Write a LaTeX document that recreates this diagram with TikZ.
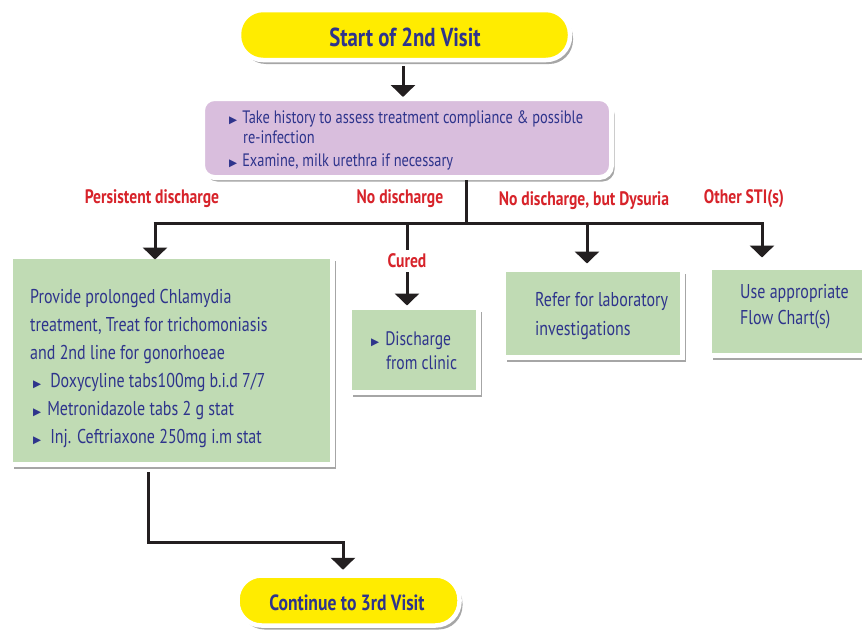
\documentclass[tikz,border=0pt]{standalone}
\usepackage{fontspec}
\setmainfont{PT Sans}[FakeStretch=0.8]
\newfontfamily\symfont{DejaVu Sans}
\usetikzlibrary{arrows.meta,shadows,calc}
\definecolor{yel}{RGB}{255,236,0}
\definecolor{pur}{RGB}{217,190,221}
\definecolor{grn}{RGB}{192,219,180}
\definecolor{txtb}{RGB}{46,52,140}
\definecolor{lblr}{RGB}{215,35,42}
\definecolor{arrc}{RGB}{35,31,32}
\newcommand\bulmark{{\symfont\fontsize{10.5}{10}\selectfont ▶}}
\begin{document}
\begin{tikzpicture}[x=1pt,y=-1pt,
  shad/.style={drop shadow={shadow xshift=3pt,shadow yshift=-4pt,opacity=0.35,fill=black}},
  pill/.style={shad,fill=yel,draw=white,line width=4.5pt,rounded corners=24pt,inner sep=0},
  pbox/.style={shad,fill=pur,draw=white,line width=5pt,rounded corners=12pt,inner sep=0},
  gbox/.style={shad,fill=grn,draw=white,line width=5pt,inner sep=0},
  txt/.style={text=txtb,font=\fontsize{20}{24}\selectfont,anchor=west,inner sep=0,text height=14.5pt,text depth=2pt},
  htxt/.style={txt,font=\fontsize{18}{22}\selectfont,text height=13.5pt,text depth=2pt},
  dtxt/.style={txt,font=\fontsize{19.5}{23}\selectfont},
  lbl/.style={text=lblr,font=\bfseries\fontsize{19.5}{23}\selectfont,inner sep=0},
  ln/.style={draw=arrc,line width=3pt},
  arr/.style={ln,-{Triangle[width=24pt,length=12pt]}}]
\useasboundingbox (0,0) rectangle (862,632);

% boxes
\node[pill,minimum width=331pt,minimum height=50pt] (start) at (404.5,35) {};
\node[pbox,minimum width=409pt,minimum height=79pt] (hist) at (407,138) {};
\node[gbox,minimum width=322pt,minimum height=208pt] (left) at (171.5,360.5) {};
\node[gbox,minimum width=129pt,minimum height=85pt] (disc) at (414,350) {};
\node[gbox,minimum width=179pt,minimum height=88pt] (refer) at (593,313.5) {};
\node[gbox,minimum width=158pt,minimum height=88pt] (use) at (788.5,311.5) {};
\node[pill,minimum width=222pt,minimum height=50pt] (cont) at (348.5,600.5) {};

% texts
\node[text=txtb,font=\bfseries\fontsize{26}{30}\selectfont,inner sep=0] (starttxt) at (405,37) {Start of 2nd Visit};
\node[text=txtb,font=\bfseries\fontsize{22}{26}\selectfont,inner sep=0] (conttxt) at (347,603) {Continue to 3rd Visit};

\node[htxt] (h1) at (229,118) {\bulmark\hspace{5pt}Take history to assess treatment compliance \& possible};
\node[htxt] (h2) at (243,138) {re-infection};
\node[htxt] (h3) at (229,161) {\bulmark\hspace{5pt}Examine, milk urethra if necessary};

\node[txt] (l1) at (30,297) {Provide prolonged Chlamydia};
\node[txt] (l2) at (30,325) {treatment, Treat for trichomoniasis};
\node[txt] (l3) at (30,353) {and 2nd line for gonorhoeae};
\node[txt] (l4) at (33,381) {\bulmark\hspace{9pt}Doxycyline tabs100mg b.i.d 7/7};
\node[txt] (l5) at (33,409) {\bulmark\hspace{6pt}Metronidazole tabs 2 g stat};
\node[txt] (l6) at (33,437) {\bulmark\hspace{9pt}Inj. Ceftriaxone 250mg i.m stat};

\node[dtxt] (d1) at (371,339) {\bulmark\hspace{6pt}Discharge};
\node[dtxt] (d2) at (386,363) {from clinic};

\node[txt] (r1) at (535,300) {Refer for laboratory};
\node[txt] (r2) at (535,329) {investigations};

\node[txt] (u1) at (740,292) {Use appropriate};
\node[txt] (u2) at (740,318) {Flow Chart(s)};

% labels
\node[lbl] (lp) at (152,199) {Persistent discharge};
\node[lbl] (ln) at (400,199) {No discharge};
\node[lbl] (ld) at (584,201) {No discharge, but Dysuria};
\node[lbl] (lo) at (744,199) {Other STI(s)};
\node[lbl] (lc) at (407,261) {Cured};

% connectors
\coordinate (a0) at (403,66);
\draw[arr,shorten >=-1pt] (a0) -- (a0 |- hist.north);

\coordinate (j) at (466,223);
\coordinate (jl) at (155,223);
\coordinate (jr) at (762,223);
\coordinate (jc) at (407,223);
\coordinate (jd) at (587,223);
\draw[ln] (j |- hist.south) -- (j);
\draw[ln,line cap=butt] ([xshift=-1.5pt]jl) -- ([xshift=1.5pt]jr);
\draw[arr,shorten >=-5.5pt] (jl) -- (jl |- left.north);
\draw[ln] (jc) -- ([yshift=4pt]jc |- lc.north);
\draw[arr,shorten <=4pt,shorten >=-0.5pt] (lc.south) -- (lc.south |- disc.north);
\draw[arr,shorten >=3.5pt] (jd) -- (jd |- refer.north);
\draw[arr,shorten >=7.5pt] (jr) -- (jr |- use.north);

\coordinate (b1) at (148,542);
\coordinate (b2) at (343,542);
\draw[arr,shorten >=3.5pt] ([yshift=-5pt]b1 |- left.south) -- (b1) -- (b2) -- (b2 |- cont.north);
\end{tikzpicture}
\end{document}
